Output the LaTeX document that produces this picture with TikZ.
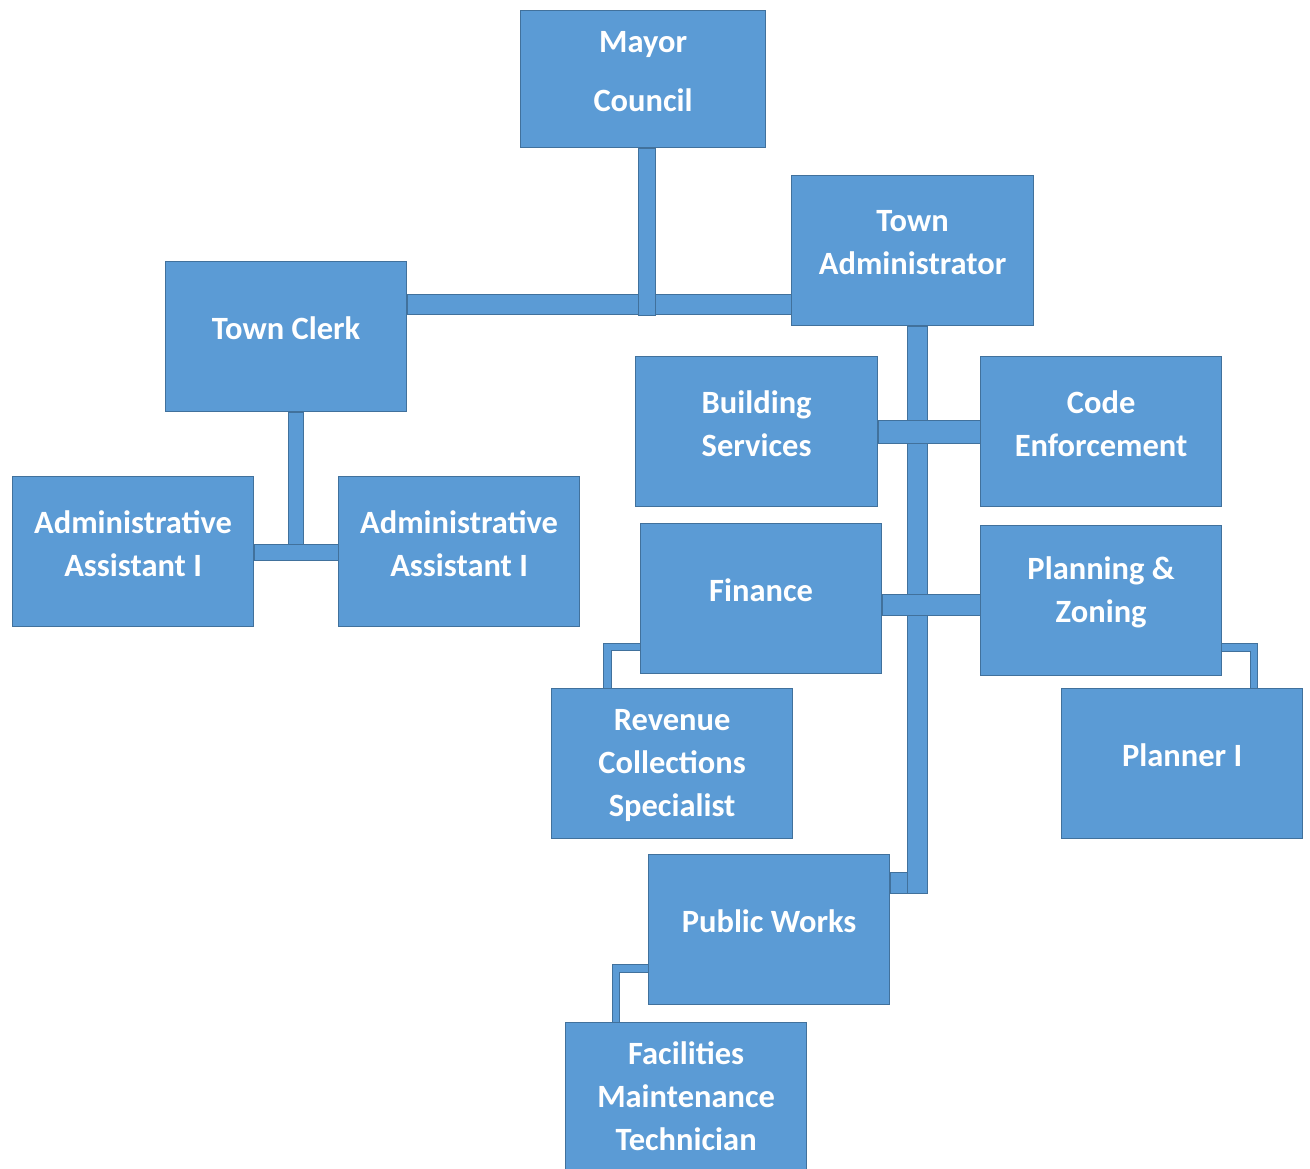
\documentclass[tikz,border=0pt]{standalone}
\usepackage{fontspec}
\setmainfont{Carlito}
\definecolor{boxfill}{HTML}{5B9BD5}
\definecolor{boxline}{HTML}{41719C}
\pgfdeclarelayer{bg}
\pgfsetlayers{bg,main}
\tikzset{
  orgbox/.style={draw=boxline, fill=boxfill, line width=1.2pt, minimum width=241pt,
    minimum height=150pt, anchor=north west, inner sep=0pt},
  lbl/.style={text=white, font=\bfseries\fontsize{32.5}{43}\selectfont, align=center, inner sep=0pt},
  barfill/.style={draw=boxline, fill=boxfill, line width=1pt},
  elb/.style={draw=boxline, line width=0.8pt, double=boxfill, double distance=6.6pt, line cap=butt}
}
\begin{document}
\begin{tikzpicture}[x=1pt,y=-1pt]
\useasboundingbox (0,0) rectangle (1310,1169);
% boxes
\node[orgbox, minimum width=245pt, minimum height=137pt] (mayor) at (520,10) {};
\node[orgbox, minimum width=242pt] (admin) at (791,175) {};
\node[orgbox] (clerk) at (165,261) {};
\node[orgbox] (aa1) at (12,476) {};
\node[orgbox] (aa2) at (338,476) {};
\node[orgbox, minimum width=242pt] (build) at (635,356) {};
\node[orgbox] (code) at (980,356) {};
\node[orgbox] (fin) at (640,523) {};
\node[orgbox] (plan) at (980,525) {};
\node[orgbox] (rev) at (551,688) {};
\node[orgbox] (planner) at (1061,688) {};
\node[orgbox] (pw) at (648,854) {};
\node[orgbox] (fac) at (565,1022) {};
% labels
\node[lbl] (t-mayor) at ([yshift=8pt]mayor.center) {Mayor\\[16pt]Council};
\node[lbl] (t-admin) at ([yshift=8pt]admin.center) {Town\\Administrator};
\node[lbl] (t-clerk) at ([yshift=8pt]clerk.center) {Town Clerk};
\node[lbl] (t-aa1) at ([yshift=8pt]aa1.center) {Administrative\\Assistant I};
\node[lbl] (t-aa2) at ([yshift=8pt]aa2.center) {Administrative\\Assistant I};
\node[lbl] (t-build) at ([yshift=8pt]build.center) {Building\\Services};
\node[lbl] (t-code) at ([yshift=8pt]code.center) {Code\\Enforcement};
\node[lbl] (t-fin) at ([yshift=8pt]fin.center) {Finance};
\node[lbl] (t-plan) at ([yshift=8pt]plan.center) {Planning \&\\Zoning};
\node[lbl] (t-rev) at ([yshift=-2pt]rev.center) {Revenue\\Collections\\Specialist};
\node[lbl] (t-planner) at ([yshift=8pt]planner.center) {Planner I};
\node[lbl] (t-pw) at ([yshift=8pt]pw.center) {Public Works};
\node[lbl] (t-fac) at ([yshift=1pt]fac.center) {Facilities\\Maintenance\\Technician};
% connectors
\begin{pgfonlayer}{bg}
\path[barfill] (clerk.east |- 0,295) rectangle (admin.west |- 0,314);
\path[barfill] (mayor.south -| 638,0) rectangle (655,315);
\path[barfill] (admin.south -| 907,0) rectangle (927,893);
\path[barfill] (build.east |- 0,420) rectangle (code.west |- 0,443);
\path[barfill] (fin.east |- 0,594) rectangle (plan.west |- 0,615);
\path[barfill] (pw.east |- 0,872) rectangle (907,893);
\path[barfill] (clerk.south -| 288,0) rectangle (303,547);
\path[barfill] (aa1.east |- 0,544) rectangle (aa2.west |- 0,560);
\draw[elb] (fin.west |- 0,647) -| (rev.north -| 607.5,0);
\draw[elb] (plan.east |- 0,647.5) -| (planner.north -| 1254,0);
\draw[elb] (pw.west |- 0,968.5) -| (fac.north -| 616,0);
\end{pgfonlayer}
\end{tikzpicture}
\end{document}
